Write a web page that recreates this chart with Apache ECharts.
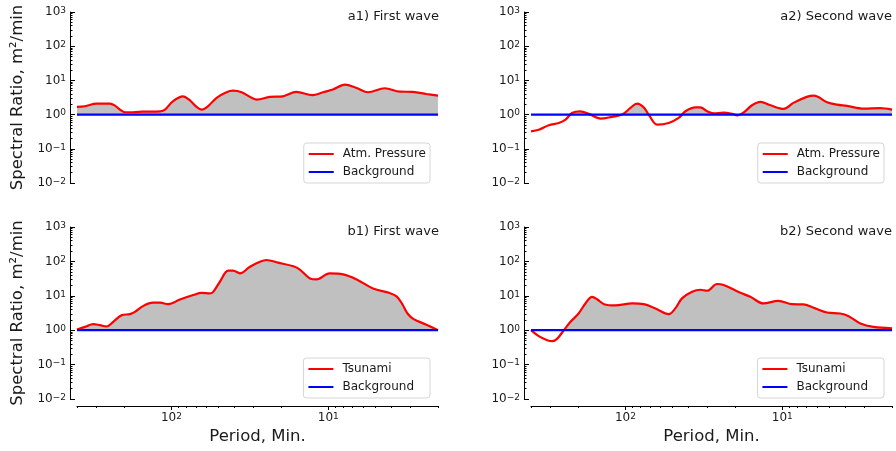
<!DOCTYPE html>
<html><head><meta charset="utf-8">
<script src="https://cdn.jsdelivr.net/npm/echarts@6/dist/echarts.min.js"></script>
<style>html,body{margin:0;padding:0;background:#fff}#c{width:896px;height:451px}</style>
</head><body><div id="c"></div>
<script>
// ---- data ----
const a1Period = [400, 356, 300, 247, 229, 213, 198, 176, 152, 118, 110, 98, 84.5, 76.2, 69.2, 64.3, 58.6, 51.5, 44.6, 40.6, 35.7, 30.8, 28.6, 23.6, 19.5, 16.0, 12.6, 10.8, 9.35, 7.85, 6.6, 5.58, 4.37, 3.5, 2.9, 2.37, 2];
const a1Ratio  = [1.68, 1.75, 2.1, 2.1, 1.83, 1.4, 1.17, 1.17, 1.22, 1.25, 1.4, 2.45, 3.43, 2.6, 1.68, 1.4, 1.75, 3.1, 4.5, 5.0, 4.5, 3.1, 2.75, 3.3, 3.43, 4.6, 3.7, 4.5, 5.4, 7.5, 6.0, 4.5, 5.9, 4.7, 4.6, 4.0, 3.6];

const a2Period = [400, 357, 308, 266, 241, 219, 194, 171, 144, 122, 105, 92.9, 84.3, 76.5, 71.1, 62.8, 53.0, 45.8, 41.5, 35.8, 33.3, 30.2, 27.4, 23.7, 20.9, 19.4, 17.7, 15.6, 13.8, 11.9, 9.8, 8.5, 7.0, 6.3, 5.19, 4.49, 3.87, 3.03, 2.38, 2];
const a2Ratio  = [0.325, 0.36, 0.49, 0.57, 0.71, 1.12, 1.25, 1.05, 0.76, 0.86, 1.0, 1.57, 2.1, 1.63, 1.0, 0.51, 0.57, 0.8, 1.25, 1.63, 1.63, 1.25, 1.09, 1.14, 1.05, 0.95, 1.14, 1.87, 2.35, 1.87, 1.47, 2.2, 3.3, 3.6, 2.3, 1.96, 1.8, 1.5, 1.55, 1.4];

const b1Period = [400, 356, 315, 286, 259, 235, 207, 184, 171, 151, 131, 118, 105, 88.3, 72.6, 64.3, 56.9, 54.2, 49.1, 43.5, 40.4, 36.6, 31.6, 27.3, 24.8, 20.9, 16.7, 15.2, 13.1, 11.9, 9.8, 8.05, 6.6, 5.19, 4.06, 3.66, 3.36, 3.12, 2.86, 2.37, 2];
const b1Ratio  = [1.05, 1.25, 1.5, 1.4, 1.28, 1.75, 2.74, 2.93, 3.4, 5.1, 6.3, 6.3, 5.7, 7.8, 10.5, 12.2, 11.7, 13, 25.6, 53.6, 53.6, 45, 70, 98, 110, 92, 72, 58, 32, 30, 45, 42, 30, 16.4, 12, 9.5, 5.5, 3, 2.1, 1.45, 1.0];

const b2Period = [400, 357, 315, 293, 272, 247, 224, 199, 180, 163, 151, 137, 116, 90.6, 76.5, 64.4, 53.0, 48.1, 43.6, 37.6, 33.3, 30.2, 26.1, 23.7, 18.5, 16.0, 13.2, 10.6, 8.67, 7.31, 6.17, 5.19, 4.28, 3.78, 3.18, 2.62, 2];
const b2Ratio  = [1.0, 0.67, 0.51, 0.48, 0.57, 1.0, 1.75, 3.06, 6.0, 9.35, 7.8, 5.7, 5.25, 6.0, 5.7, 4.3, 2.93, 4.3, 8.4, 13.1, 15, 14, 22, 20.5, 12.2, 9.35, 6.0, 7.15, 5.7, 5.6, 4.3, 3.28, 3.06, 2.56, 1.57, 1.25, 1.14];

const bgPeriod = [400, 2];
const bgRatio  = [1, 1];

const xMajorTicks = [100, 10];
const xMinorTicks = [400, 300, 200, 90, 80, 70, 60, 50, 40, 30, 20, 9, 8, 7, 6, 5, 4, 3, 2];
const yMajorTicks = [0.01, 0.1, 1, 10, 100, 1000];
const yMinorTicks = [0.02,0.03,0.04,0.05,0.06,0.07,0.08,0.09, 0.2,0.3,0.4,0.5,0.6,0.7,0.8,0.9, 2,3,4,5,6,7,8,9, 20,30,40,50,60,70,80,90, 200,300,400,500,600,700,800,900];

const panelTitles = ['a1) First wave', 'a2) Second wave', 'b1) First wave', 'b2) Second wave'];
const signalNames = ['Atm. Pressure', 'Atm. Pressure', 'Tsunami', 'Tsunami'];
const yTitle = 'Spectral Ratio, m\u00b2/min';
const xTitle = 'Period, Min.';

// ---- layout ----
const FONT = 'DejaVu Sans';
const TXT = '#1a1a1a';
const periods = [a1Period, a2Period, b1Period, b2Period];
const ratios = [a1Ratio, a2Ratio, b1Ratio, b2Ratio];
const grids = [
  {left: 77, top: 12, width: 361, height: 171},
  {left: 531, top: 12, width: 361, height: 171},
  {left: 77, top: 227, width: 361, height: 172},
  {left: 531, top: 227, width: 361, height: 172}
];
const LINE_ICON = 'path://M0,0L25,0L25,2L0,2Z';

function supLabel(v) {
  const e = Math.round(Math.log10(v));
  const s = e < 0 ? '\u2212' + (-e) : String(e);
  return '{b|10}{s|' + s + '}';
}
const rich = {
  b: {fontSize: 12, fontFamily: FONT, color: TXT, lineHeight: 12, padding: [4, 0, 0, 0], verticalAlign: 'bottom'},
  s: {fontSize: 9, fontFamily: FONT, color: TXT, lineHeight: 10, verticalAlign: 'top'}
};

const xAxes = [], yAxes = [], series = [], legends = [], graphics = [];
for (let g = 0; g < 4; g++) {
  const bottom = g >= 2;
  const left = g % 2 === 0;
  xAxes.push({
    gridIndex: g, type: 'log', logBase: 10, min: 2, max: 400, inverse: true, offset: 7, position: 'bottom',
    show: bottom,
    axisLine: {show: true, onZero: false, lineStyle: {color: '#000', width: 1}},
    axisTick: {show: true, length: 4, customValues: xMajorTicks, lineStyle: {color: '#000'}},
    axisLabel: {customValues: xMajorTicks, formatter: supLabel, rich: rich, margin: 6},
    splitLine: {show: false},
    name: bottom ? xTitle : '', nameLocation: 'middle', nameGap: 22,
    nameTextStyle: {fontSize: 16.5, fontFamily: FONT, color: TXT}
  });
  xAxes.push({
    gridIndex: g, type: 'log', logBase: 10, min: 2, max: 400, inverse: true, offset: 7, position: 'bottom',
    show: bottom,
    axisLine: {show: false, onZero: false},
    axisTick: {show: true, length: 2, customValues: xMinorTicks, lineStyle: {color: '#000'}},
    axisLabel: {show: false},
    splitLine: {show: false}
  });
  yAxes.push({
    gridIndex: g, type: 'log', logBase: 10, min: 0.01, max: 1000, offset: 7, position: 'left',
    axisLine: {show: true, onZero: false, lineStyle: {color: '#000', width: 1}},
    axisTick: {show: true, inside: true, length: 5, customValues: yMajorTicks, lineStyle: {color: '#000'}},
    axisLabel: {customValues: yMajorTicks, formatter: supLabel, rich: rich, margin: 4},
    splitLine: {show: false},
    name: left ? yTitle : '', nameLocation: 'middle', nameGap: 44,
    nameTextStyle: {fontSize: 16.5, fontFamily: FONT, color: TXT}
  });
  yAxes.push({
    gridIndex: g, type: 'log', logBase: 10, min: 0.01, max: 1000, offset: 7, position: 'left',
    axisLine: {show: false, onZero: false},
    axisTick: {show: true, inside: true, length: 2.5, customValues: yMinorTicks, lineStyle: {color: '#000'}},
    axisLabel: {show: false},
    splitLine: {show: false}
  });
  const xi = g * 2, yi = g * 2;
  const P = periods[g], R = ratios[g];
  series.push({
    name: 'fill' + g, type: 'line', xAxisIndex: xi, yAxisIndex: yi,
    data: P.map((p, i) => [p, Math.max(R[i], 1)]),
    smooth: 0.35, showSymbol: false, silent: true, z: 1,
    lineStyle: {width: 0, opacity: 0},
    areaStyle: {color: '#c0c0c0', opacity: 1, origin: 1}
  });
  series.push({
    name: signalNames[g], type: 'line', xAxisIndex: xi, yAxisIndex: yi,
    data: P.map((p, i) => [p, R[i]]),
    smooth: 0.35, showSymbol: false, symbol: 'none', z: 2,
    lineStyle: {color: '#ff0000', width: 2.2}, itemStyle: {color: '#ff0000'}
  });
  series.push({
    name: 'Background', type: 'line', xAxisIndex: xi, yAxisIndex: yi,
    data: bgPeriod.map((p, i) => [p, bgRatio[i]]),
    showSymbol: false, symbol: 'none', z: 3,
    lineStyle: {color: '#0000ff', width: 2.2}, itemStyle: {color: '#0000ff'}
  });
  legends.push({
    data: [{name: signalNames[g], icon: LINE_ICON}, {name: 'Background', icon: LINE_ICON}],
    orient: 'vertical',
    right: left ? 466 : 12, top: bottom ? 358 : 143,
    itemWidth: 25, itemHeight: 14, itemGap: 6, padding: [5, bottom ? 16 : 4, 5, 5],
    borderColor: '#d6d6d6', borderWidth: 1, borderRadius: 3,
    backgroundColor: 'rgba(255,255,255,0.8)', selectedMode: false,
    textStyle: {fontSize: 12, fontFamily: FONT, color: TXT, padding: [0, 0, 0, 4]}
  });
  graphics.push({
    type: 'text', right: left ? 457 : 4, top: bottom ? 225 : 10,
    style: {text: panelTitles[g], font: '13px "DejaVu Sans"', fill: TXT}
  });
}

const chart = echarts.init(document.getElementById('c'), null, {renderer: 'canvas'});
chart.setOption({
  animation: false,
  backgroundColor: '#fff',
  textStyle: {fontFamily: FONT},
  grid: grids.map(g => Object.assign({containLabel: false}, g)),
  xAxis: xAxes, yAxis: yAxes, series: series, legend: legends, graphic: graphics
});
</script></body></html>
